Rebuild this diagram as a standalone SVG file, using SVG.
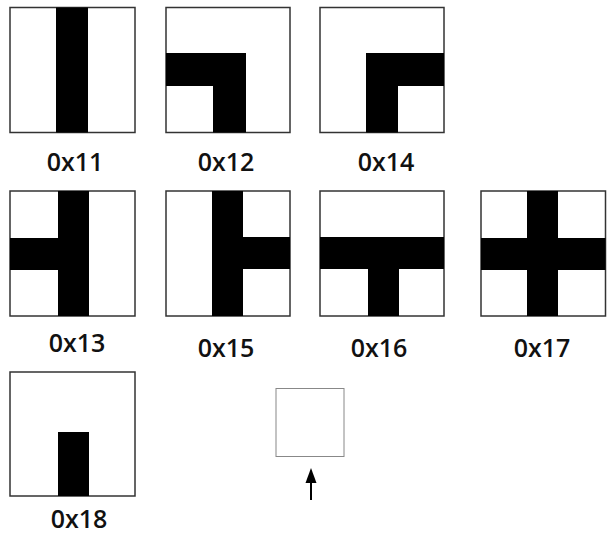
<svg xmlns="http://www.w3.org/2000/svg" width="611" height="535" viewBox="0 0 611 535">
<style>
.box{fill:#fff;stroke:#333;stroke-width:1.5}
.bar{fill:#000}
.lbl{font-family:"Open Sans","Liberation Sans",sans-serif;font-weight:600;font-size:25px;fill:#111;text-anchor:middle}
.small{fill:#fff;stroke:#888;stroke-width:1}
</style>
<rect width="611" height="535" fill="#fff"/>
<g id="t11">
<rect class="box" x="10" y="7.5" width="125" height="125"/>
<rect class="bar" x="56" y="7.5" width="32" height="125"/>
<text class="lbl" x="75" y="171">0x11</text>
</g>
<g id="t12">
<rect class="box" x="166" y="7.5" width="124" height="125"/>
<path class="bar" d="M166 53H246V132.5H213V86H166Z"/>
<text class="lbl" x="226" y="171">0x12</text>
</g>
<g id="t14">
<rect class="box" x="320" y="7.5" width="124" height="125"/>
<path class="bar" d="M366 53H444V86H398V132.5H366Z"/>
<text class="lbl" x="386" y="171">0x14</text>
</g>
<g id="t13">
<rect class="box" x="10" y="191" width="125" height="125"/>
<path class="bar" d="M58 191H89V316H58V270H10V238H58Z"/>
<text class="lbl" x="77" y="352">0x13</text>
</g>
<g id="t15">
<rect class="box" x="166" y="191" width="124" height="125"/>
<path class="bar" d="M212 191H243V237H290V269H243V316H212Z"/>
<text class="lbl" x="226" y="357">0x15</text>
</g>
<g id="t16">
<rect class="box" x="320" y="191" width="124" height="125"/>
<path class="bar" d="M320 237H444V269H399V316H368V269H320Z"/>
<text class="lbl" x="379" y="357">0x16</text>
</g>
<g id="t17">
<rect class="box" x="481" y="191" width="124.5" height="125"/>
<path class="bar" d="M527 191H558V238H605.5V270H558V316H527V270H481V238H527Z"/>
<text class="lbl" x="542" y="357">0x17</text>
</g>
<g id="t18">
<rect class="box" x="10" y="372" width="125" height="124"/>
<rect class="bar" x="58" y="432" width="31" height="64"/>
<text class="lbl" x="79" y="528">0x18</text>
</g>
<g id="empty">
<rect class="small" x="276" y="388.5" width="68" height="68"/>
</g>
<g id="connectors">
<line x1="311" y1="500" x2="311" y2="478" stroke="#000" stroke-width="2"/>
<path d="M311 468L316.5 483H305.5Z" fill="#000"/>
</g>
</svg>
